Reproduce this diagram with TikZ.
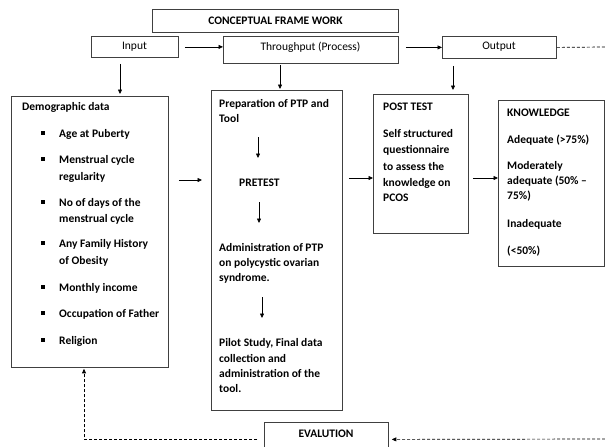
\documentclass[tikz,border=0pt]{standalone}
\usepackage{fontspec}
\setmainfont{Carlito}
\usetikzlibrary{arrows.meta}
\begin{document}
\begin{tikzpicture}[x=1pt,y=-1pt,
  box/.style={draw=black!75, line width=0.8pt, inner sep=0, anchor=north west},
  lbl/.style={inner sep=0, font=\fontsize{11.5}{14}\selectfont},
  bt/.style={anchor=base west, inner sep=0, font=\fontsize{11.5}{14}\selectfont\bfseries},
  arr/.style={-{Triangle[length=4.5pt,width=4pt]}, line width=0.7pt},
  dsh/.style={dash pattern=on 3pt off 2pt, line width=0.7pt},
  bul/.style={fill=black, minimum size=3.5pt, inner sep=0}
]
\useasboundingbox (0,0) rectangle (605,447);
\clip (0,0) rectangle (605,447);

% top row
\node[box, minimum width=246pt, minimum height=23pt] (title) at (152,9) {};
\node[lbl, font=\fontsize{11.5}{14}\selectfont\bfseries] (titletext) at (275.5,20.5) {CONCEPTUAL FRAME WORK};
\node[box, minimum width=87pt, minimum height=21pt] (input) at (91,36) {};
\node[lbl] (inputtext) at (134.5,46.5) {Input};
\node[box, minimum width=175pt, minimum height=27pt] (thr) at (223,36) {};
\node[lbl] (thrtext) at (310.5,47) {Throughput (Process)};
\node[box, minimum width=114pt, minimum height=22pt] (out) at (442,36) {};
\node[lbl] (outtext) at (499,47) {Output};
\coordinate (rtop) at (605,47);

% main boxes
\node[box, minimum width=157pt, minimum height=271pt] (demo) at (11,96) {};
\node[box, minimum width=131pt, minimum height=320pt] (prep) at (211,90) {};
\node[box, minimum width=95pt, minimum height=139pt] (post) at (373,94) {};
\node[box, minimum width=106pt, minimum height=166pt] (know) at (498,100) {};
\node[box, minimum width=124pt, minimum height=34pt] (eval) at (264,422) {};
\node[lbl, font=\fontsize{11.5}{14}\selectfont\bfseries] (evaltext) at (326,434) {EVALUTION};
\coordinate (rbot) at (605,439);

% demographic text
\node[bt] (d0) at (22,110) {Demographic data};
\node[bul] (b1) at (43,133) {};
\node[bt] (d1) at (59,137) {Age at Puberty};
\node[bul] (b2) at (43,159) {};
\node[bt] (d2) at (59,163) {Menstrual cycle};
\node[bt] (d2b) at (59,180) {regularity};
\node[bul] (b3) at (43,202) {};
\node[bt] (d3) at (59,206) {No of days of the};
\node[bt] (d3b) at (59,222) {menstrual cycle};
\node[bul] (b4) at (43,243) {};
\node[bt] (d4) at (59,247) {Any Family History};
\node[bt] (d4b) at (59,264) {of Obesity};
\node[bul] (b5) at (43,287) {};
\node[bt] (d5) at (59,291) {Monthly income};
\node[bul] (b6) at (43,313) {};
\node[bt] (d6) at (59,317) {Occupation of Father};
\node[bul] (b7) at (43,340) {};
\node[bt] (d7) at (59,344) {Religion};

% preparation text
\node[bt] (p1) at (219,107) {Preparation of PTP and};
\node[bt] (p1b) at (219,122) {Tool};
\node[bt] (p2) at (239,186) {PRETEST};
\node[bt] (p3) at (219,251) {Administration of PTP};
\node[bt] (p3b) at (219,266) {on polycystic ovarian};
\node[bt] (p3c) at (219,281) {syndrome.};
\node[bt] (p4) at (219,346) {Pilot Study, Final data};
\node[bt] (p4b) at (219,362) {collection and};
\node[bt] (p4c) at (219,377) {administration of the};
\node[bt] (p4d) at (219,392) {tool.};
\coordinate (pa1) at (258,137);
\coordinate (pa1e) at (258,158);
\coordinate (pa2) at (259,202);
\coordinate (pa2e) at (259,223);
\coordinate (pa3) at (262,297);
\coordinate (pa3e) at (262,318);

% post test text
\node[bt] (q0) at (383,110) {POST TEST};
\node[bt] (q1) at (383,137) {Self structured};
\node[bt] (q2) at (383,153) {questionnaire};
\node[bt] (q3) at (383,170) {to assess the};
\node[bt] (q4) at (383,186) {knowledge on};
\node[bt] (q5) at (383,201) {PCOS};

% knowledge text
\node[bt] (k0) at (507,116) {KNOWLEDGE};
\node[bt] (k1) at (507,143) {Adequate (>75\%)};
\node[bt] (k2) at (507,169) {Moderately};
\node[bt] (k2b) at (507,184) {adequate (50\% –};
\node[bt] (k2c) at (507,199) {75\%)};
\node[bt] (k3) at (507,227) {Inadequate};
\node[bt] (k4) at (507,254) {(<50\%)};

% connectors
\draw[arr, shorten <=6pt] (input.east) -- (input.east -| thr.west);
\draw[arr, shorten <=7pt] (thr.east |- out.west) -- (out.west);
\draw[dsh] (out.east) -- (rtop);
\draw[arr, shorten <=6pt, shorten >=2pt] (input.south -| 120,0) -- (demo.north -| 120,0);
\draw[arr, shorten <=1pt, shorten >=1pt] (thr.south -| 280,0) -- (prep.north -| 280,0);
\draw[arr, shorten <=7pt, shorten >=4pt] (out.south -| 453,0) -- (post.north -| 453,0);
\draw[arr, shorten <=10pt, shorten >=9pt] (demo.east |- 0,180) -- (prep.west |- 0,180);
\draw[arr, shorten <=6pt] (prep.east |- 0,178) -- (post.west |- 0,178);
\draw[arr, shorten <=4pt] (post.east |- 0,178) -- (know.west |- 0,178);
\draw[arr] (pa1) -- (pa1e);
\draw[arr] (pa2) -- (pa2e);
\draw[arr] (pa3) -- (pa3e);
\draw[dsh, arr, shorten >=1pt] ([xshift=-7pt]eval.west) -| (demo.south -| 84,0);
\draw[dsh, arr, shorten >=3pt] (rbot) -- (eval.east);
\end{tikzpicture}
\end{document}
